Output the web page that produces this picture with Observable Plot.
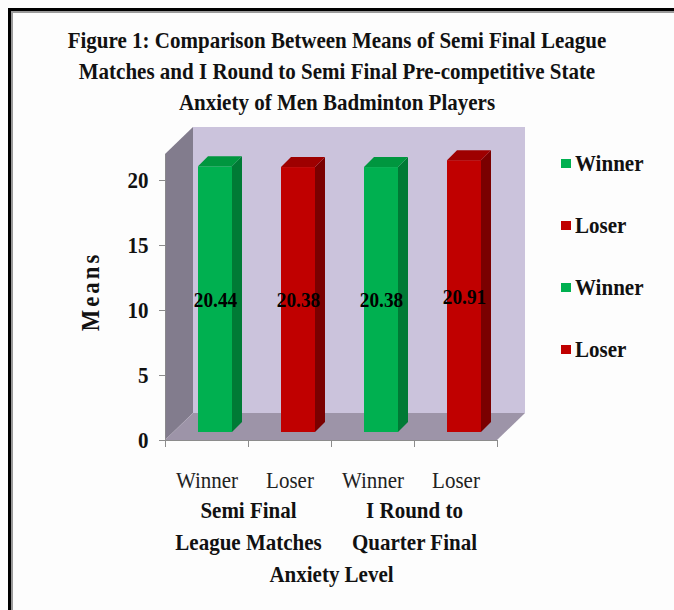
<!DOCTYPE html>
<html>
<head>
<meta charset="utf-8">
<script src="https://cdn.jsdelivr.net/npm/d3@7"></script>
<script src="https://cdn.jsdelivr.net/npm/@observablehq/plot@0.6"></script>
<style>
  html, body { margin: 0; padding: 0; background: #fff; }
  #wrap { position: relative; width: 674px; height: 610px; overflow: hidden; background: #fdfdfd; font-family: "Liberation Serif", "Times New Roman", serif; }
  #frame { position: absolute; left: 8px; top: 8px; width: 700px; height: 700px; border-left: 3px solid #000; border-top: 3px solid #000; box-shadow: inset 2px 2px 0 #9a9a9a; }
  #title { position: absolute; left: 0; width: 674px; top: 25px; text-align: center; font-weight: bold; font-size: 24px; line-height: 31px; color: #111; transform: scaleX(0.875); transform-origin: 337px 0; white-space: nowrap; }
  #chart { position: absolute; left: 0; top: 120px; }
  #legend { position: absolute; left: 561px; top: 132px; }
  .item { height: 62px; display: flex; align-items: center; font-weight: bold; font-size: 24px; color: #111; }
  .item .lbl { display: inline-block; transform: scaleX(0.875); transform-origin: 0 50%; }
  .sw { width: 10px; height: 9px; margin-right: 4px; }
</style>
</head>
<body>
<div id="wrap">
  <div id="frame"></div>
  <div id="title">Figure 1: Comparison Between Means of Semi Final League<br>Matches and I Round to Semi Final Pre-competitive State<br>Anxiety of Men Badminton Players</div>
  <div id="chart"></div>
  <div id="legend"></div>
</div>
<script>
// ---- data ----
const categories = ["Winner", "Loser", "Winner", "Loser"];
const groups = ["Semi Final\nLeague Matches", "I Round to\nQuarter Final"];
const means = [20.44, 20.38, 20.38, 20.91];
const yTicks = [0, 5, 10, 15, 20];
const legendLabels = ["Winner", "Loser", "Winner", "Loser"];
const xTitle = "Anxiety Level";
const yTitle = "Means";

// ---- style ----
const palette = {
  Winner: { front: "#00b050", side: "#007a35", top: "#00963f" },
  Loser:  { front: "#c00000", side: "#7a0000", top: "#9e0000" }
};
const width = 674, height = 470, mt = 34, mb = 150, ml = 165, mr = 177;
const xMax = 4, yMax = 22;
const kx = (width - ml - mr) / xMax;   // px per x unit
const ky = (height - mt - mb) / yMax;  // px per y unit
const wallDx = 28 / kx, wallDy = 27 / ky;   // wall depth
const barOx = 8.5 / kx, barOy = 8 / ky;     // bar depth position
const barDx = 10 / kx, barDy = 10 / ky;     // bar depth
const hw = 17 / kx;                          // half bar width

const bars = means.map((v, i) => ({
  i, v, cat: categories[i],
  x1: i + 0.5 + barOx - hw, x2: i + 0.5 + barOx + hw,
  y1: barOy, y2: v + barOy
}));
const sides = bars.flatMap(b => [
  { i: b.i, x: b.x2, y1: b.y1, y2: b.y2, c: palette[b.cat].side },
  { i: b.i, x: b.x2 + barDx, y1: b.y1 + barDy, y2: b.y2 + barDy, c: palette[b.cat].side }
]);
const tops = bars.flatMap(b => [
  { i: b.i, y: b.y2, x1: b.x1, x2: b.x2, c: palette[b.cat].top },
  { i: b.i, y: b.y2 + barDy, x1: b.x1 + barDx, x2: b.x2 + barDx, c: palette[b.cat].top }
]);
const leftWall = [
  { x: 0, y1: 0, y2: yMax },
  { x: wallDx, y1: wallDy, y2: yMax + wallDy }
];
const floor = [
  { y: 0, x1: 0, x2: xMax },
  { y: wallDy, x1: wallDx, x2: xMax + wallDx }
];

const font = "Liberation Serif, Times New Roman, serif";
const chart = Plot.plot({
  width, height, marginTop: mt, marginBottom: mb, marginLeft: ml, marginRight: mr,
  x: { domain: [0, xMax], axis: null },
  y: { domain: [0, yMax], axis: null },
  color: { type: "identity" },
  style: { fontFamily: font, background: "transparent", overflow: "visible" },
  marks: [
    Plot.rect([0], { x1: wallDx, x2: xMax + wallDx, y1: wallDy, y2: yMax + wallDy, fill: "#cbc3dc" }),
    Plot.areaY(leftWall, { x: "x", y1: "y1", y2: "y2", fill: "#827c8d" }),
    Plot.areaX(floor, { y: "y", x1: "x1", x2: "x2", fill: "#9d94a8" }),
    Plot.ruleY([0], { x1: 0, x2: xMax, stroke: "#8c8c8c" }),
    Plot.ruleX([0], { y1: 0, y2: yMax, stroke: "#8c8c8c", strokeWidth: 0.8 }),
    Plot.axisX({ ticks: d3.range(xMax + 1), tickFormat: () => "", tickSize: 7, stroke: "#8c8c8c", label: null }),
    Plot.axisY({ ticks: yTicks, tickSize: 6, tickPadding: 11, stroke: "#8c8c8c", fill: "#111", fontSize: 24, fontWeight: "bold", label: null }),
    Plot.rect(bars, { x1: "x1", x2: "x2", y1: "y1", y2: "y2", fill: d => palette[d.cat].front }),
    Plot.areaY(sides, { x: "x", y1: "y1", y2: "y2", z: "i", fill: "c" }),
    Plot.areaX(tops, { y: "y", x1: "x1", x2: "x2", z: "i", fill: "c" }),
    Plot.text(bars, { x: d => (d.x1 + d.x2) / 2, y: d => d.v / 2 + barOy, text: d => d.v.toFixed(2), fontSize: 22, fontWeight: "bold", fill: "#000" }),
    Plot.text(categories, { x: (d, i) => i + 0.5, y: 0, dy: 40, text: d => d, fontSize: 24, fill: "#222" }),
    Plot.text(groups, { x: (d, i) => 1 + 2 * i, y: 0, dy: 83, text: d => d, fontSize: 24, fontWeight: "bold", lineHeight: 1.33, fill: "#111" }),
    Plot.text([xTitle], { x: xMax / 2, y: 0, dy: 134, text: d => d, fontSize: 24, fontWeight: "bold", fill: "#111" }),
    Plot.text([yTitle], { x: 0, y: yMax / 2, dx: -75, dy: -6, rotate: -90, textAnchor: "middle", text: d => d, fontSize: 26, fontWeight: "bold", fill: "#111" })
  ]
});
// condense all chart text horizontally, like the original's compressed serif
chart.querySelectorAll("text").forEach(t => {
  const tr = t.getAttribute("transform");
  if (tr) t.setAttribute("transform", tr + " scale(0.875,1)");
  else {
    const x = +(t.getAttribute("x") || 0);
    t.setAttribute("transform", `translate(${x},0) scale(0.875,1) translate(${-x},0)`);
  }
  if (t.textContent === yTitle) t.setAttribute("letter-spacing", "3.5");
});
document.getElementById("chart").appendChild(chart);

const legend = document.getElementById("legend");
legendLabels.forEach(l => {
  const it = document.createElement("div");
  it.className = "item";
  it.innerHTML = `<span class="sw" style="background:${palette[l].front}"></span><span class="lbl">${l}</span>`;
  legend.appendChild(it);
});
</script>
</body>
</html>
